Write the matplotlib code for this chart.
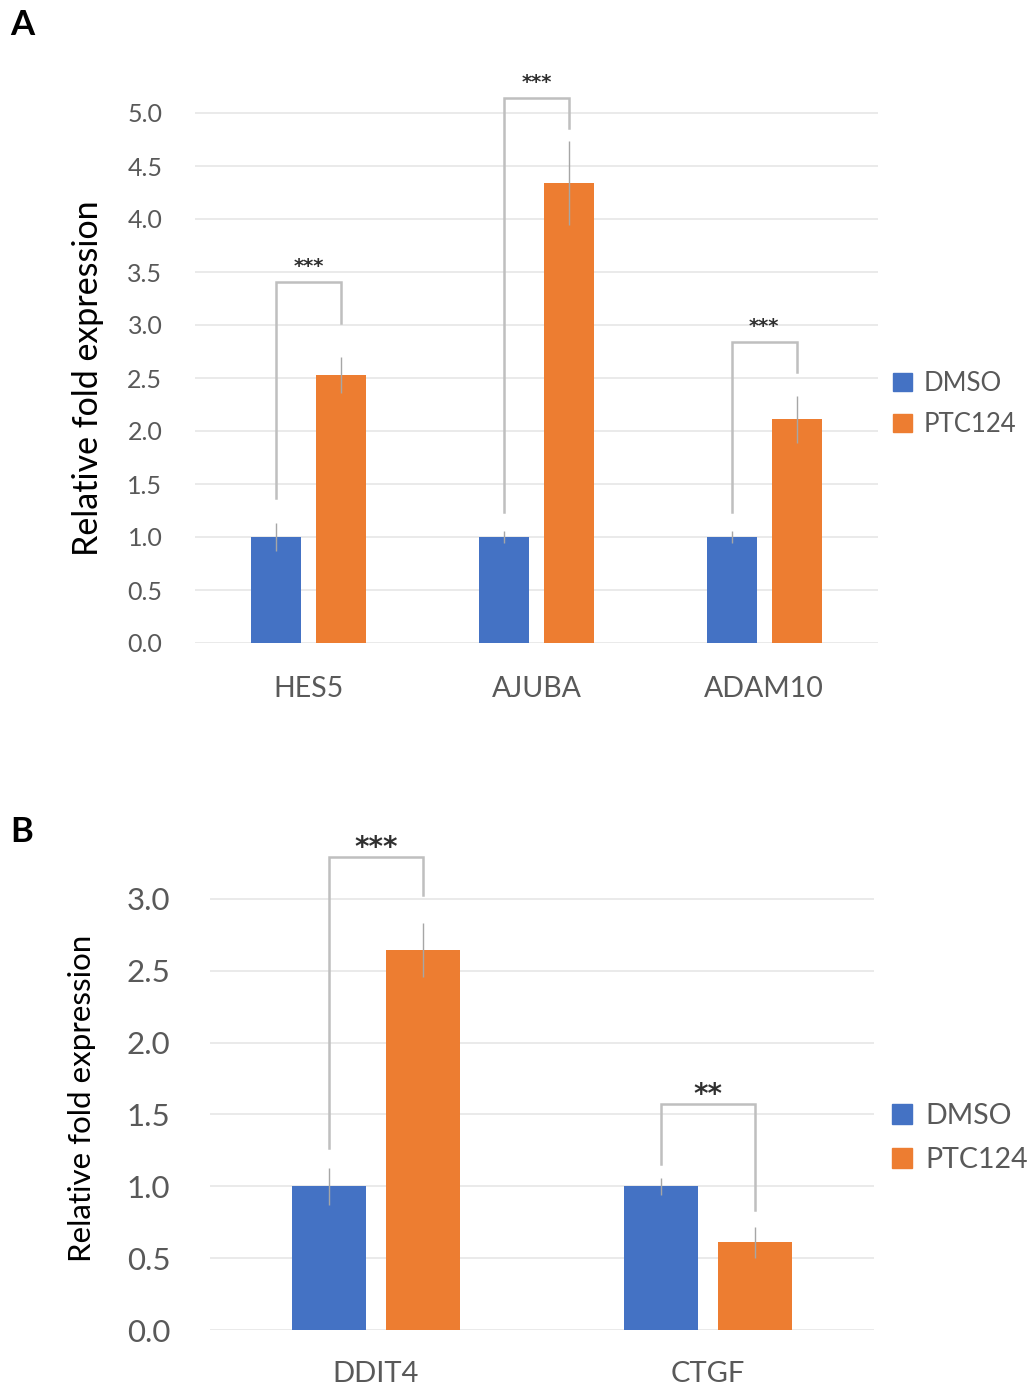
import matplotlib
matplotlib.use("Agg")
import matplotlib.pyplot as plt
from matplotlib.patches import Patch

plt.rcParams['font.family'] = ['Lato', 'DejaVu Sans']

# ---- data panel A ----
genes_a = ['HES5', 'AJUBA', 'ADAM10']
dmso_a = [1.0, 1.0, 1.0]
ptc_a = [2.53, 4.34, 2.11]
dmso_err_a = [0.13, 0.06, 0.06]
ptc_err_a = [0.17, 0.40, 0.22]
br_top_a = [3.41, 5.14, 2.84]
br_left_a = [1.37, 1.24, 1.24]
br_right_a = [3.02, 4.86, 2.56]
sig_a = ['***', '***', '***']
yticks_a = [0.0, 0.5, 1.0, 1.5, 2.0, 2.5, 3.0, 3.5, 4.0, 4.5, 5.0]

# ---- data panel B ----
genes_b = ['DDIT4', 'CTGF']
dmso_b = [1.0, 1.0]
ptc_b = [2.645, 0.61]
dmso_err_b = [0.13, 0.06]
ptc_err_b = [0.19, 0.11]
br_top_b = [3.29, 1.57]
br_left_b = [1.27, 1.155]
br_right_b = [3.03, 0.835]
sig_b = ['***', '**']
yticks_b = [0.0, 0.5, 1.0, 1.5, 2.0, 2.5, 3.0]

series = ['DMSO', 'PTC124']
BLUE = '#4472C4'
ORANGE = '#ED7D31'
TICKC = '#595959'
GRIDC = '#e6e6e6'
BRC = '#bfbfbf'
ERRC = '#a6a6a6'

W, H = 1027, 1387
fig = plt.figure(figsize=(W / 100, H / 100), dpi=100)


def px_axes(x0, x1, y_bottom, y_top):
    return fig.add_axes([x0 / W, 1 - y_bottom / H, (x1 - x0) / W, (y_bottom - y_top) / H])


def draw(ax, genes, d, p, de, pe, btop, bl, br, sig, yticks, ylim, off, width,
         tick_fs, tick_pad, cat_fs, cat_pad, star_fs, star_off):
    x = list(range(len(genes)))
    xd = [i - off for i in x]
    xp = [i + off for i in x]
    ax.bar(xd, d, width, color=BLUE, zorder=3, label=series[0])
    ax.bar(xp, p, width, color=ORANGE, zorder=3, label=series[1])
    ax.errorbar(xd, d, yerr=de, fmt='none', ecolor=ERRC, elinewidth=1.0, capsize=0, zorder=4)
    ax.errorbar(xp, p, yerr=pe, fmt='none', ecolor=ERRC, elinewidth=1.0, capsize=0, zorder=4)
    for i in x:
        ax.plot([xd[i], xd[i], xp[i], xp[i]], [bl[i], btop[i], btop[i], br[i]],
                color=BRC, lw=1.8, zorder=2, solid_joinstyle='miter')
        ax.annotate(sig[i], xy=((xd[i] + xp[i]) / 2, btop[i]), xytext=(0, star_off),
                    textcoords='offset points', ha='center', va='center',
                    fontsize=star_fs, color='#303030', fontweight='bold',
                    family='DejaVu Sans')
    ax.set_ylim(*ylim)
    ax.set_xlim(-0.5, len(genes) - 0.5)
    ax.set_yticks(yticks)
    ax.set_yticklabels([f'{v:.1f}' for v in yticks])
    ax.set_xticks(x)
    ax.set_xticklabels(genes)
    ax.tick_params(axis='y', length=0, labelsize=tick_fs, labelcolor=TICKC, pad=tick_pad)
    ax.tick_params(axis='x', length=0, labelsize=cat_fs, labelcolor=TICKC, pad=cat_pad)
    ax.grid(axis='y', color=GRIDC, lw=1.2, zorder=0)
    ax.set_axisbelow(True)
    for s in ax.spines.values():
        s.set_visible(False)


axA = px_axes(195, 878, 643, 643 - 5.4 * 106)
draw(axA, genes_a, dmso_a, ptc_a, dmso_err_a, ptc_err_a, br_top_a, br_left_a, br_right_a,
     sig_a, yticks_a, (0, 5.4), 0.1425, 0.22, 18, 23.5, 20.5, 24, 14, 11)

axB = px_axes(210, 874, 1330, 1330 - 3.45 * 143.7)
draw(axB, genes_b, dmso_b, ptc_b, dmso_err_b, ptc_err_b, br_top_b, br_left_b, br_right_b,
     sig_b, yticks_b, (0, 3.45), 0.1416, 0.223, 22.5, 28.5, 21, 22, 20, 7)

fig.text(88 / W, 1 - 378 / H, 'Relative fold expression', rotation=90, fontsize=24.5,
         color='black', ha='center', va='center')
fig.text(82 / W, 1 - 1098 / H, 'Relative fold expression', rotation=90, fontsize=22.5,
         color='black', ha='center', va='center')

for yc, xa, fs, ls in [(404, 870, 18.5, 0.62), (1138, 866, 20.5, 0.62)]:
    handles = [Patch(color=BLUE, label=series[0]), Patch(color=ORANGE, label=series[1])]
    fig.legend(handles=handles, loc='center left', bbox_to_anchor=(xa / W, 1 - yc / H),
               frameon=False, fontsize=fs, handlelength=0.72,
               handleheight=0.72, handletextpad=0.45, labelspacing=ls,
               labelcolor=TICKC)

fig.text(10 / W, 1 - 25 / H, 'A', fontsize=25, fontweight='bold', va='center', ha='left')
fig.text(10 / W, 1 - 832 / H, 'B', fontsize=25, fontweight='bold', va='center', ha='left')

fig.savefig('out.png', dpi=100)
